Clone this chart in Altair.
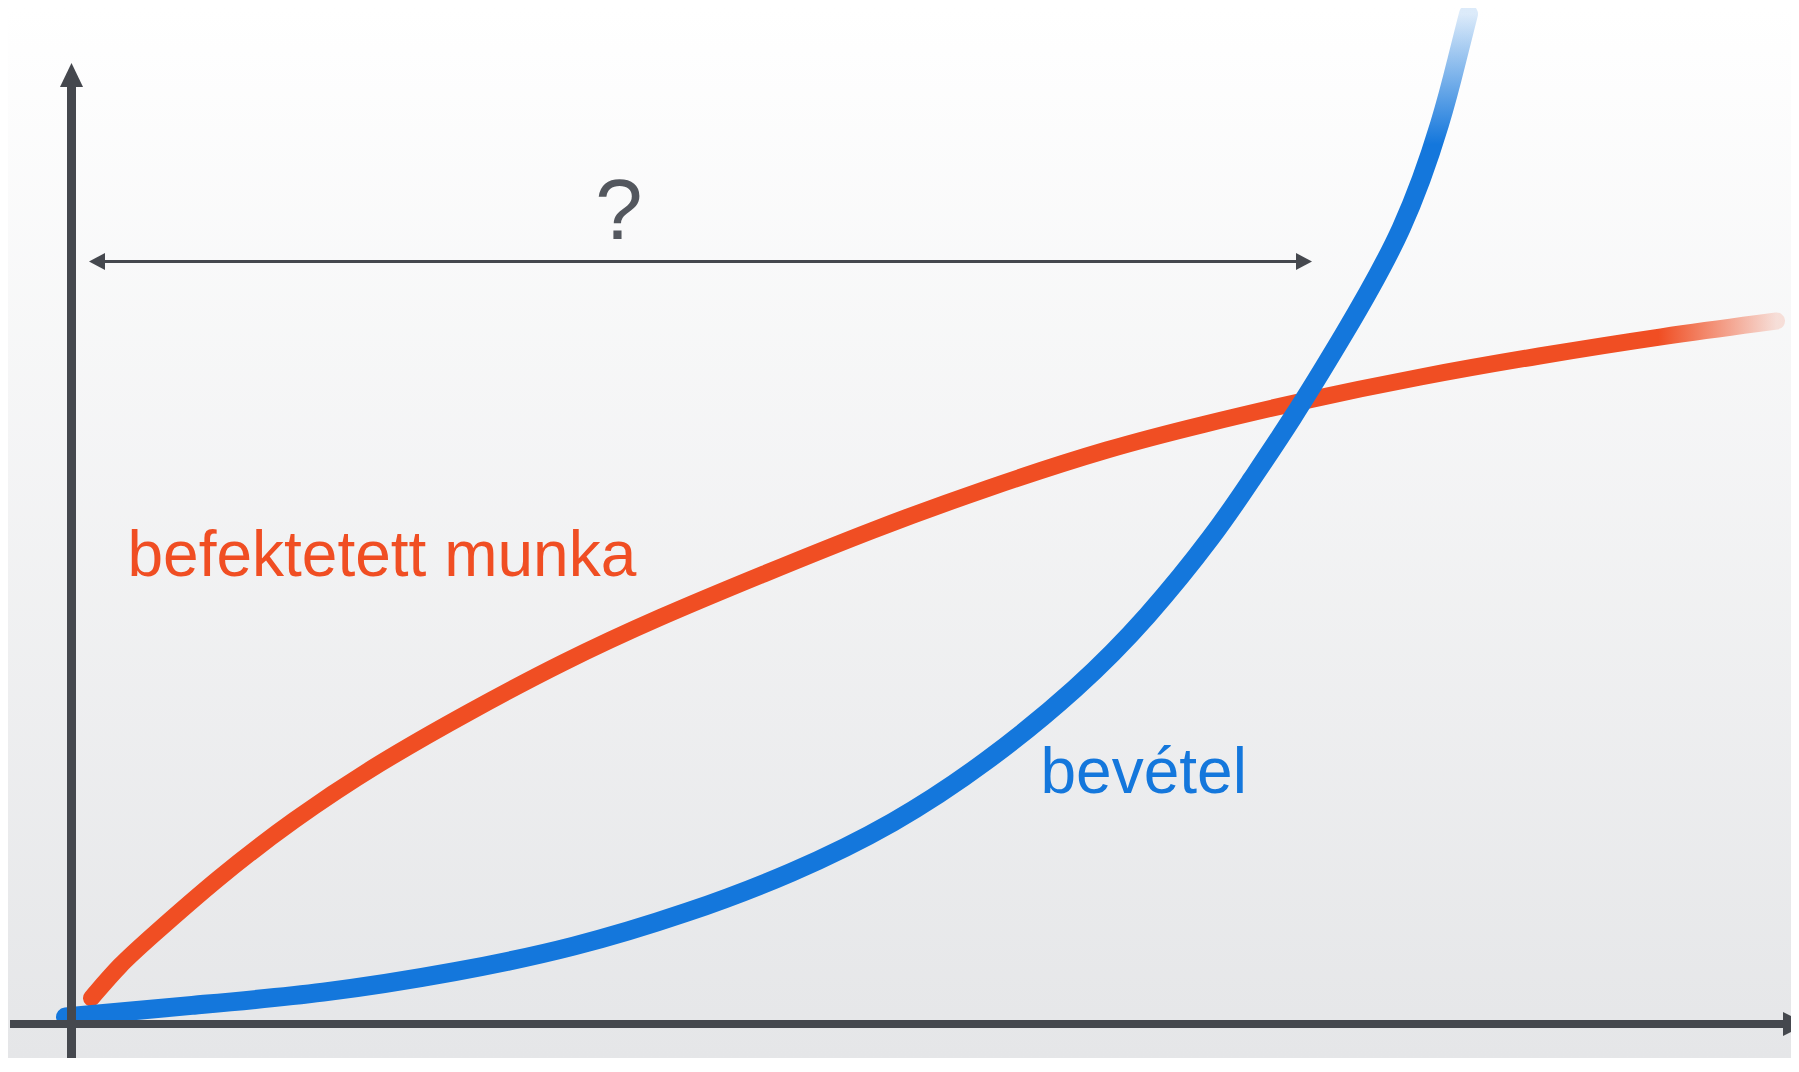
import altair as alt
import pandas as pd

W, H = 1783, 1050
X_DOMAIN = [-6.35, 171.95]
Y_DOMAIN = [-3.4, 101.6]

# curve data (arbitrary units, origin at axis crossing)
red_x = [2.0, 4.9, 7.7, 14.6, 22.1, 30.7, 39.9, 49.1, 58.8, 69.2, 80.0, 91.5, 104.1, 113.3, 122.5, 135.1, 146.6, 159.2, 170.5]
red_y = [2.6, 6.0, 8.5, 14.6, 20.4, 26.1, 31.3, 36.2, 40.7, 45.0, 49.4, 53.6, 57.7, 60.0, 62.2, 64.8, 66.8, 68.8, 70.3]

blue_x = [-0.6, 12.3, 25.0, 38.7, 50.2, 61.7, 72.0, 82.3, 91.5, 100.7, 107.6, 114.5, 117.9, 121.9, 127.0, 133.4, 137.2, 138.6, 139.7]
blue_y = [0.7, 1.9, 3.0, 5.2, 7.6, 11.1, 15.0, 20.0, 26.1, 33.6, 40.6, 49.2, 54.3, 60.2, 68.5, 79.5, 90.9, 96.7, 101.0]

# labels
label_text = ["befektetett munka", "bevétel"]
label_x = [5.6, 96.9]
label_y = [44.8, 23.1]
question_text = ["?"]
question_x = [54.75]
question_y = [78.5]

# arrow annotation span
span_x = [3.35]
span_x2 = [122.45]
span_y = [76.25]
span_tip_left = [2.55]
span_tip_right = [123.25]

# axis extents
yaxis_top = [93.7]
yaxis_tip = [94.9]
xaxis_left = [-6.15]
xaxis_right = [171.15]
xaxis_tip = [172.35]

AX = "#45484e"
RED = "#f04e23"
BLUE = "#1477dc"

xs = alt.Scale(domain=X_DOMAIN, nice=False, zero=False)
ys = alt.Scale(domain=Y_DOMAIN, nice=False, zero=False)

def X(f="x"):
    return alt.X(f"{f}:Q", scale=xs, axis=None)

def Y(f="y"):
    return alt.Y(f"{f}:Q", scale=ys, axis=None)

bg_grad = alt.LinearGradient(
    gradient="linear",
    stops=[alt.GradientStop(color="#ffffff", offset=0),
           alt.GradientStop(color="#e5e6e8", offset=1)],
    x1=0, x2=0, y1=0, y2=1,
)
bg = alt.Chart(pd.DataFrame({"a": [0]})).mark_rect(fill=bg_grad).encode(
    x=alt.value(0), x2=alt.value(W), y=alt.value(0), y2=alt.value(H)
)

yaxis = alt.Chart(pd.DataFrame({"x": [0.0], "y": [Y_DOMAIN[0]], "y2": yaxis_top})).mark_rule(
    color=AX, strokeWidth=9, strokeCap="butt"
).encode(x=X(), y=Y(), y2="y2:Q")

xaxis = alt.Chart(pd.DataFrame({"x": xaxis_left, "x2": xaxis_right, "y": [0.0]})).mark_rule(
    color=AX, strokeWidth=8, strokeCap="butt"
).encode(x=X(), x2="x2:Q", y=Y())

def head(x, y, path, size):
    return alt.Chart(pd.DataFrame({"x": x, "y": y})).mark_point(
        shape=path, size=size, filled=True, color=AX, opacity=1, strokeWidth=0
    ).encode(x=X(), y=Y())

yhead = head([0.0], yaxis_tip, "M0,-1L-0.96,1L0.96,1Z", 576)
xhead = head(xaxis_tip, [0.0], "M1,0L-1,-1L-1,1Z", 576)
lhead = head(span_tip_left, span_y, "M-0.94,0L0.94,-1L0.94,1Z", 289)
rhead = head(span_tip_right, span_y, "M0.94,0L-0.94,-1L-0.94,1Z", 289)

span = alt.Chart(pd.DataFrame({"x": span_x, "x2": span_x2, "y": span_y})).mark_rule(
    color=AX, strokeWidth=3
).encode(x=X(), x2="x2:Q", y=Y())

red_grad = alt.LinearGradient(
    gradient="linear",
    stops=[alt.GradientStop(color=RED, offset=0),
           alt.GradientStop(color=RED, offset=0.93),
           alt.GradientStop(color="rgba(240,78,35,0.15)", offset=1)],
    x1=0, x2=1, y1=0, y2=0,
)
blue_grad = alt.LinearGradient(
    gradient="linear",
    stops=[alt.GradientStop(color="rgba(20,119,220,0.15)", offset=0),
           alt.GradientStop(color=BLUE, offset=0.13),
           alt.GradientStop(color=BLUE, offset=1)],
    x1=0, x2=0, y1=0, y2=1,
)

red_df = pd.DataFrame({"x": red_x, "y": red_y, "i": range(len(red_x))})
blue_df = pd.DataFrame({"x": blue_x, "y": blue_y, "i": range(len(blue_x))})

red_line = alt.Chart(red_df).mark_line(
    interpolate="basis", strokeWidth=17, strokeCap="round", stroke=red_grad
).encode(x=X(), y=Y(), order="i:Q")
blue_line = alt.Chart(blue_df).mark_line(
    interpolate="basis", strokeWidth=19, strokeCap="round", stroke=blue_grad
).encode(x=X(), y=Y(), order="i:Q")

lab_df = pd.DataFrame({"x": label_x, "y": label_y, "t": label_text, "c": [RED, BLUE]})
labels = alt.Chart(lab_df).mark_text(
    align="left", baseline="alphabetic", font="Liberation Sans", fontSize=64
).encode(x=X(), y=Y(), text="t:N", color=alt.Color("c:N", scale=None))

q = alt.Chart(pd.DataFrame({"x": question_x, "y": question_y, "t": question_text})).mark_text(
    align="center", baseline="alphabetic", font="Liberation Sans", fontSize=85, color="#53575e"
).encode(x=X(), y=Y(), text="t:N")

chart = alt.layer(
    bg, span, lhead, rhead, q, red_line, blue_line, labels, yaxis, xaxis, yhead, xhead
).properties(
    width=W, height=H, padding=0, autosize=alt.AutoSizeParams(type="none"), background="#ffffff"
).configure_view(stroke=None)

chart.save("out.html", embed_options={"renderer": "svg", "actions": False})
